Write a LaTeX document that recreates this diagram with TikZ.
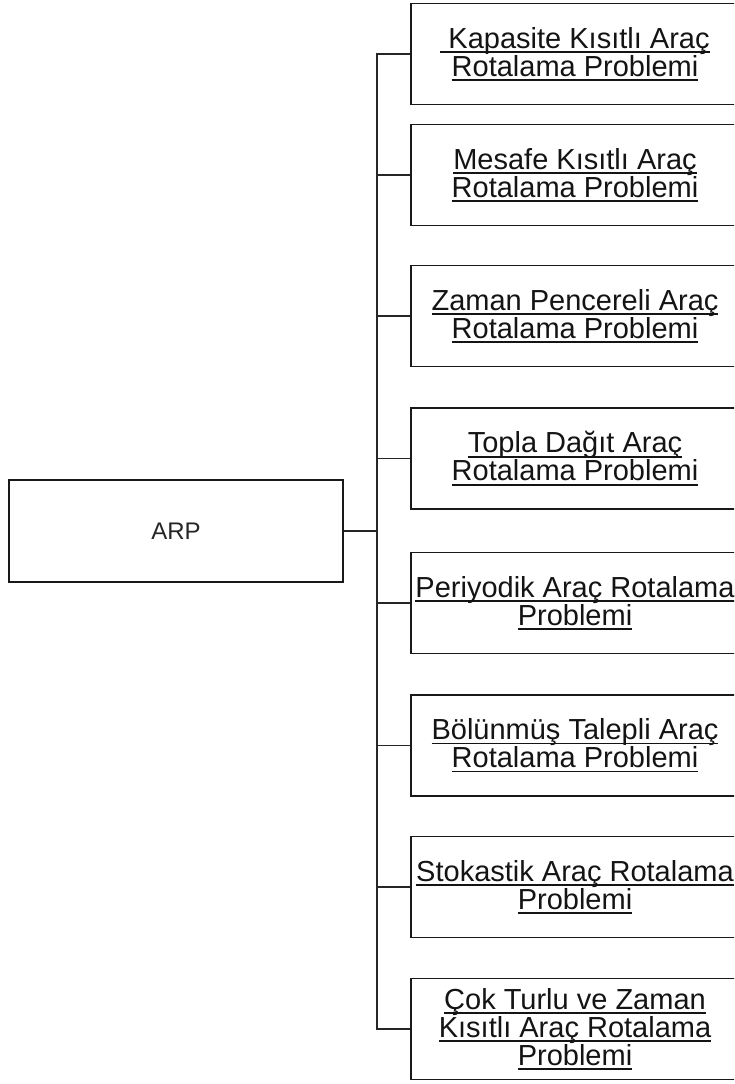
\documentclass[tikz,border=0pt]{standalone}
\usepackage{fontspec}
\setmainfont{Liberation Sans}
\newcommand\myul[1]{\setbox0\hbox{#1}\rlap{\rule[-4.8pt]{\wd0}{1.8pt}}\box0}
\begin{document}
\begin{tikzpicture}[x=1pt,y=-1pt,
  subbox/.style={draw=black!90,line width=1.9pt,minimum width=328pt,minimum height=101pt,inner sep=0pt,align=center,
     font=\fontsize{29}{28}\selectfont,text=black!92},
  rootbox/.style={draw=black!90,line width=1.9pt,minimum width=334pt,minimum height=102pt,inner sep=0pt,
     font=\fontsize{24}{26}\selectfont,text=black!85},
  link/.style={draw=black!85,line width=1.9pt}]
\useasboundingbox (0,0) rectangle (734,1084);
\clip (0,0) rectangle (734,1084);
\fill[white] (0,0) rectangle (734,1084);
\node[rootbox] (arp) at (176,531) {ARP};
\node[subbox] (b1) at (575,54) {\myul{\ Kapasite Kısıtlı Araç}\\\myul{Rotalama Problemi}};
\node[subbox] (b2) at (575,175) {\myul{Mesafe Kısıtlı Araç}\\\myul{Rotalama Problemi}};
\node[subbox] (b3) at (575,316) {\myul{Zaman Pencereli Araç}\\\myul{Rotalama Problemi}};
\node[subbox] (b4) at (575,458.5) {\myul{Topla Dağıt Araç}\\\myul{Rotalama Problemi}};
\node[subbox] (b5) at (575,603) {\myul{Periyodik Araç Rotalama}\\\myul{Problemi}};
\node[subbox] (b6) at (575,745.5) {\myul{Bölünmüş Talepli Araç}\\\myul{Rotalama Problemi}};
\node[subbox] (b7) at (575,887) {\myul{Stokastik Araç Rotalama}\\\myul{Problemi}};
\node[subbox] (b8) at (575,1029) {\myul{Çok Turlu ve Zaman}\\\myul{Kısıtlı Araç Rotalama}\\\myul{Problemi}};
\coordinate (j) at (377,531);
\draw[link] (arp.east) -- (j);
\foreach \b in {b1,b2,b3,b4,b5,b6,b7,b8}{
  \draw[link] (j) |- (\b.west);
}
\end{tikzpicture}
\end{document}
